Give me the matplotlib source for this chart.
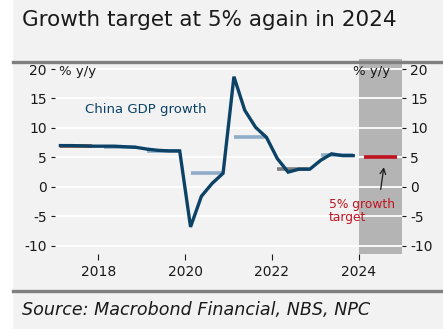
import matplotlib
matplotlib.use("Agg")
import matplotlib.pyplot as plt
from matplotlib.lines import Line2D
from matplotlib.patches import Rectangle

# China GDP growth, year-to-date % y/y, quarterly
quarters = ["2017Q1", "2017Q2", "2017Q3", "2017Q4",
            "2018Q1", "2018Q2", "2018Q3", "2018Q4",
            "2019Q1", "2019Q2", "2019Q3", "2019Q4",
            "2020Q1", "2020Q2", "2020Q3", "2020Q4",
            "2021Q1", "2021Q2", "2021Q3", "2021Q4",
            "2022Q1", "2022Q2", "2022Q3", "2022Q4",
            "2023Q1", "2023Q2", "2023Q3", "2023Q4"]
gdp_growth = [7.0, 7.0, 6.95, 6.9,
              6.9, 6.9, 6.8, 6.7,
              6.4, 6.2, 6.1, 6.1,
              -6.8, -1.6, 0.6, 2.3,
              18.7, 13.0, 10.1, 8.4,
              4.8, 2.5, 3.0, 3.0,
              4.5, 5.6, 5.3, 5.3]

# annual outcome markers
annual_years = [2017, 2018, 2019, 2020, 2021, 2022, 2023]
annual_values = [6.9, 6.8, 6.0, 2.3, 8.5, 3.1, 5.4]
annual_colors = ["#a0523d", "#8fadc8", "#8fadc8", "#8fadc8", "#8fadc8", "#7f7f7f", "#8fadc8"]

target_year = 2024
target_value = 5.0

yticks = [-10, -5, 0, 5, 10, 15, 20]
xticks = [2018, 2020, 2022, 2024]

NAVY = "#0b4266"
RED = "#c0121f"
BG = "#f2f2f2"
W, H = 443, 329


def q_to_x(q):
    year, n = int(q[:4]), int(q[-1])
    return year + (n - 0.5) / 4


x = [q_to_x(q) for q in quarters]

fig = plt.figure(figsize=(W / 100, H / 100), dpi=100, facecolor=BG)
fig.patches.append(Rectangle((0, 0), 13 / W, 1, transform=fig.transFigure,
                             facecolor="white", edgecolor="none", zorder=0))

ax = fig.add_axes([55 / W, 1 - 254 / H, (402 - 55) / W, (254 - 59) / H])
ax.set_facecolor(BG)
ax.set_xlim(2017.0, 2025.0)
ax.set_ylim(-11.4, 21.7)

ax.axvspan(target_year, target_year + 1, color="#b4b4b4", lw=0, zorder=0.2)
ax.set_axisbelow(True)
ax.grid(axis="y", color="white", lw=1.3)
ax.grid(axis="x", visible=False)

for yr, val, c in zip(annual_years, annual_values, annual_colors):
    ax.plot([yr + 0.125, yr + 0.86], [val, val], color=c, lw=2.6,
            solid_capstyle="butt", zorder=2)

ax.plot(x, gdp_growth, color=NAVY, lw=2.4, zorder=3, solid_joinstyle="miter")
ax.plot([target_year + 0.125, target_year + 0.875], [target_value, target_value],
        color=RED, lw=2.6, solid_capstyle="butt", zorder=3)

for s in ax.spines.values():
    s.set_visible(False)

ax.set_yticks(yticks)
ax.set_yticklabels([str(v) for v in yticks])
ax.set_xticks(xticks)
ax.tick_params(axis="y", left=True, right=True, labelleft=True, labelright=True,
               length=3, width=0.8, pad=3, colors="#1a1a1a", labelsize=10)
ax.tick_params(axis="x", length=4, width=0.8, pad=4, colors="#1a1a1a", labelsize=10)

ax.text(2017.1, 19.6, "% y/y", fontsize=9.5, color="#1a1a1a", va="center", ha="left")
ax.text(2024.73, 19.6, "% y/y", fontsize=9.5, color="#1a1a1a", va="center", ha="right")
ax.text(2017.7, 13.1, "China GDP growth", fontsize=9.5, color=NAVY, va="center", ha="left")

ax.annotate("", xy=(2024.59, 3.8), xytext=(2024.5, -0.9),
            arrowprops=dict(arrowstyle="->", color="#1a1a1a", lw=0.9))
ax.text(2023.31, -4.1, "5% growth\ntarget", fontsize=8.8, color=RED,
        va="center", ha="left", linespacing=1.05)

fig.text(22 / W, 1 - 20 / H, "Growth target at 5% again in 2024", fontsize=15.5,
         color="#1a1a1a", va="center", ha="left")
fig.add_artist(Line2D([13 / W, 1], [1 - 62 / H] * 2, color="#808080", lw=2.4))
fig.add_artist(Line2D([13 / W, 1], [1 - 291 / H] * 2, color="#808080", lw=2.4))
fig.text(22 / W, 1 - 310 / H, "Source: Macrobond Financial, NBS, NPC", fontsize=12.6,
         style="italic", color="#1a1a1a", va="center", ha="left")

fig.savefig("out.png", dpi=100, facecolor=BG)
